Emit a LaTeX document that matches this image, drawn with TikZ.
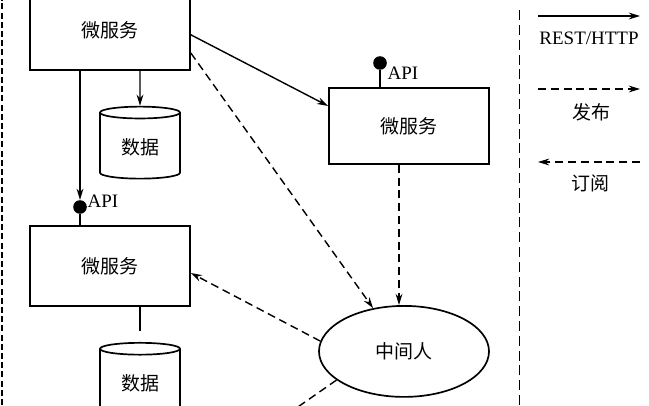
\documentclass[tikz,border=0pt]{standalone}
\usepackage{fontspec}
\setmainfont{Liberation Serif}
\newfontfamily\cjk{Noto Sans CJK SC}
\usetikzlibrary{arrows.meta}
\usetikzlibrary{shapes.geometric}
\tikzset{zh/.style = {font = \cjk\fontsize{13.5}{16}\selectfont}}
\tikzset{en/.style = {font = \fontsize{13.5}{16}\selectfont}}
\tikzset{svc/.style = {draw, zh, line width = 1.2pt, minimum width = 4cm, minimum height = 2cm}}
\tikzset{db/.style = {draw, zh, cylinder, shape border rotate = 90, aspect = 0.25, line width = 1.2pt, minimum width = 2cm, minimum height = 1.8cm}}
\tikzset{api/.style = {fill, circle, inner sep = 0, minimum size = 0.34cm}}
\tikzset{rest/.style = {line width = 1pt, -{Stealth[length = 2.8mm, width = 1.7mm]}}}
\tikzset{pub/.style = {rest, dash pattern = on 0.2cm off 0.12cm}}

\begin{document}
\begin{tikzpicture}
    \useasboundingbox (0, 0) rectangle (16.225, 10.125);
    \clip (0, 0) rectangle (16.225, 10.125);

    % services and their stores
    \node [svc] (S1) at (2.75, 9.375) {微服务};
    \node [svc] (S2) at (2.75, 3.475) {微服务};
    \node [svc, minimum height = 1.9cm] (S3) at (10.225, 6.975) {微服务};
    \node [db] (D1) at (3.5, 6.44) {数据};
    \node [db] (D2) at (3.5, 0.535) {数据};
    \node [draw, ellipse, zh, line width = 1.2pt, minimum width = 4.25cm, minimum height = 2.275cm] (M) at (10.1, 1.34) {中间人};

    % api sockets
    \node [api] (A1) at (2, 4.95) {};
    \node [en, anchor = west, inner sep = 1pt] (T1) at (2.15, 5.1) {API};
    \node [api] (A3) at (9.5, 8.55) {};
    \node [en, anchor = west, inner sep = 1pt] (T3) at (9.65, 8.3) {API};
    \draw [line width = 1pt] (A1) -- (A1 |- S2.north);
    \draw [line width = 1pt] (A3) -- (A3 |- S3.north);

    \draw [rest] (S1.south -| A1) -- (A1.north);
    \draw [rest] (S1.south -| D1) -- (D1.north);
    \draw [line width = 1pt] (S2.south -| D2) -- ++(0, -0.6);
    \draw [rest] ([yshift = -0.12cm]S1.east) -- ([yshift = 0.5cm]S3.west);

    % publish / subscribe
    \draw [pub] ([yshift = -0.575cm]S1.east) -- (M);
    \draw [pub] ([xshift = -0.25cm]S3.south) coordinate (p) -- (p |- M.north);
    \draw [pub] (M.173) -- ([yshift = -0.175cm]S2.east);
    \coordinate (X) at (6.8, -0.5);
    \draw [pub, -] (M.203) -- (X);

    % frame lines
    \draw [line width = 1.4pt, dash pattern = on 0.15cm off 0.08cm] (0.05, 0) -- (0.05, 10.125);
    \draw [line width = 0.7pt, dash pattern = on 0.25cm off 0.12cm] (12.975, 0) -- (12.975, 9.95);

    % legend
    \coordinate (r1) at (13.45, 9.725);
    \coordinate (r2) at (16.0, 9.725);
    \coordinate (f1) at (13.45, 7.9);
    \coordinate (f2) at (16.0, 7.9);
    \coordinate (d1) at (13.45, 6.075);
    \coordinate (d2) at (16.0, 6.075);
    \draw [rest] (r1) -- (r2);
    \draw [pub] (f1) -- (f2);
    \draw [pub] (d2) -- (d1);
    \node [en] (L1) at (14.725, 9.175) {REST/HTTP};
    \node [zh] (L2) at (14.775, 7.325) {发布};
    \node [zh] (L3) at (14.75, 5.55) {订阅};
\end{tikzpicture}
\end{document}
